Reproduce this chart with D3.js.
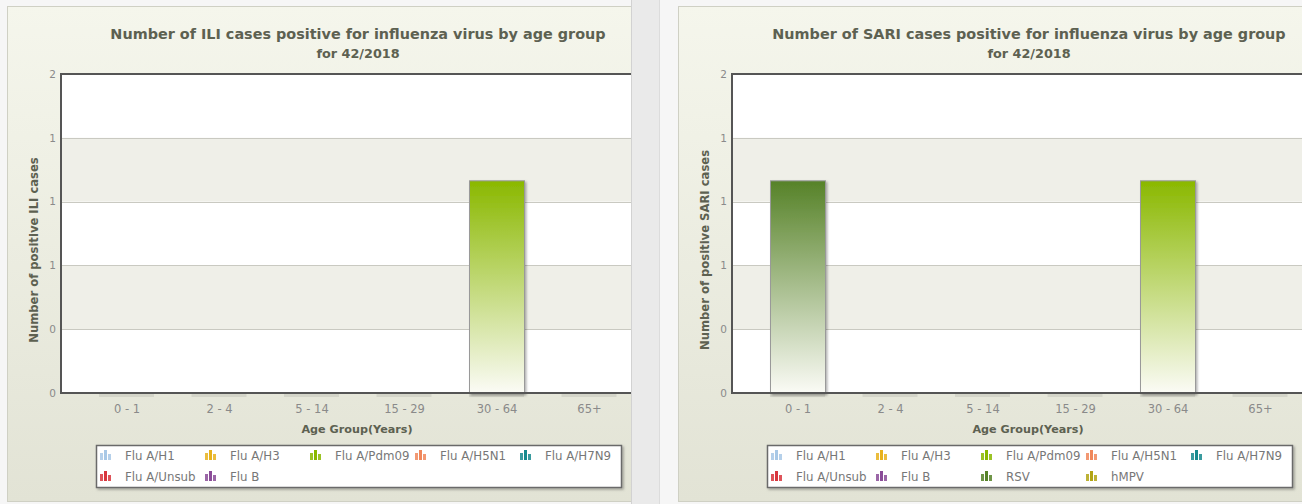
<!DOCTYPE html>
<html><head><meta charset="utf-8">
<script src="https://cdn.jsdelivr.net/npm/d3@7"></script>
<style>html,body{margin:0;padding:0;background:#f6f6f6;}svg{display:block;font-family:"DejaVu Sans",Verdana,sans-serif;}</style>
</head><body><svg id="c" width="1302" height="504"></svg>
<script>
const categories = ["0 - 1","2 - 4","5 - 14","15 - 29","30 - 64","65+"];
const yTicks = [0,0.3,0.6,0.9,1.2,1.5];
const iliSeriesNames = ["Flu A/H1","Flu A/H3","Flu A/Pdm09","Flu A/H5N1","Flu A/H7N9","Flu A/Unsub","Flu B"];
const sariSeriesNames = ["Flu A/H1","Flu A/H3","Flu A/Pdm09","Flu A/H5N1","Flu A/H7N9","Flu A/Unsub","Flu B","RSV","hMPV"];
const seriesColors = {"Flu A/H1":"#a8c8e6","Flu A/H3":"#e8b21c","Flu A/Pdm09":"#8ab800","Flu A/H5N1":"#f0875a","Flu A/H7N9":"#178a8e","Flu A/Unsub":"#d8363d","Flu B":"#8a4c98","RSV":"#568228","hMPV":"#b2a414"};
// values per age group (0-1, 2-4, 5-14, 15-29, 30-64, 65+)
const iliH1 = [0,0,0,0,0,0];
const iliH3 = [0,0,0,0,0,0];
const iliPdm09 = [0,0,0,0,1,0];
const iliH5N1 = [0,0,0,0,0,0];
const iliH7N9 = [0,0,0,0,0,0];
const iliUnsub = [0,0,0,0,0,0];
const iliFluB = [0,0,0,0,0,0];
const sariH1 = [0,0,0,0,0,0];
const sariH3 = [0,0,0,0,0,0];
const sariPdm09 = [0,0,0,0,1,0];
const sariH5N1 = [0,0,0,0,0,0];
const sariH7N9 = [0,0,0,0,0,0];
const sariUnsub = [0,0,0,0,0,0];
const sariFluB = [0,0,0,0,0,0];
const sariRSV = [1,0,0,0,0,0];
const sariHMPV = [0,0,0,0,0,0];
const iliValues = [iliH1,iliH3,iliPdm09,iliH5N1,iliH7N9,iliUnsub,iliFluB];
const sariValues = [sariH1,sariH3,sariPdm09,sariH5N1,sariH7N9,sariUnsub,sariFluB,sariRSV,sariHMPV];

const svg = d3.select("#c");
const defs = svg.append("defs");
const pg = defs.append("linearGradient").attr("id","panelBg").attr("x1",0).attr("y1",0).attr("x2",0).attr("y2",1);
pg.append("stop").attr("offset","0%").attr("stop-color","#f5f6ec");
pg.append("stop").attr("offset","100%").attr("stop-color","#e2e3d5");
Object.entries(seriesColors).forEach(([k,c],i)=>{
  const g = defs.append("linearGradient").attr("id","bg"+i).attr("x1",0).attr("y1",0).attr("x2",0).attr("y2",1);
  g.append("stop").attr("offset","0%").attr("stop-color",c);
  g.append("stop").attr("offset","100%").attr("stop-color","#fbfbf6");
});
const colorIdx = Object.keys(seriesColors);
const shadow = defs.append("filter").attr("id","sh").attr("x","-20%").attr("y","-20%").attr("width","150%").attr("height","150%");
shadow.append("feDropShadow").attr("dx",1.5).attr("dy",1.5).attr("stdDeviation",1.2).attr("flood-color","#000").attr("flood-opacity",0.3);

svg.append("rect").attr("x",631).attr("y",0).attr("width",29).attr("height",504).attr("fill","#eaeaea");
svg.append("line").attr("x1",631.5).attr("x2",631.5).attr("y1",0).attr("y2",504).attr("stroke","#d2d2d2");
svg.append("line").attr("x1",659.5).attr("x2",659.5).attr("y1",0).attr("y2",504).attr("stroke","#dcdcdc");

function panel(px, idx, names, values, kind){
  const W = 624, H = 496;
  defs.append("clipPath").attr("id","clip"+idx).append("rect").attr("width",W).attr("height",H);
  const g = svg.append("g").attr("transform",`translate(${px},6)`).attr("clip-path",`url(#clip${idx})`);
  g.append("rect").attr("x",0.5).attr("y",0.5).attr("width",W+20).attr("height",H-1).attr("fill","url(#panelBg)").attr("stroke","#cfd0c4");
  const left = 54, top = 68, bottom = 387, right = 700;
  const y = d3.scaleLinear().domain([0,1.5]).range([bottom, top]);
  const x = d3.scalePoint().domain(categories).range([119.5, 582]);
  const barW = 55;
  g.append("rect").attr("x",left).attr("y",top).attr("width",right-left).attr("height",bottom-top).attr("fill","#ffffff");
  for(let i=0;i<yTicks.length-1;i++){
    if(i%2===1) g.append("rect").attr("x",left).attr("y",y(yTicks[i+1])).attr("width",right-left).attr("height",y(yTicks[i])-y(yTicks[i+1])).attr("fill","#efefe8");
  }
  g.selectAll(".grid").data(yTicks.slice(1,-1)).join("line").attr("x1",left).attr("x2",right)
    .attr("y1",d=>Math.round(y(d))+0.5).attr("y2",d=>Math.round(y(d))+0.5).attr("stroke","#c9c9c1");
  const yAxis = d3.axisLeft(y).tickValues(yTicks).tickFormat(d3.format(".0f")).tickSize(0).tickPadding(5);
  const ya = g.append("g").attr("transform",`translate(${left},0)`).call(yAxis);
  ya.select(".domain").remove();
  ya.selectAll("text").attr("font-size",10.5).attr("fill","#8a8a8a").attr("font-family","DejaVu Sans, sans-serif");
  const rows = categories.map((c,ci)=>{const o={cat:c}; names.forEach((n,si)=>o[n]=values[si][ci]); return o;});
  const stack = d3.stack().keys(names)(rows);
  g.selectAll(".zs").data(categories).join("rect").attr("x",d=>x(d)-barW/2).attr("y",bottom+1).attr("width",barW).attr("height",3)
    .attr("fill","#d2d3c6").attr("opacity",0.9);
  stack.forEach(s=>{
    const ci = colorIdx.indexOf(s.key);
    g.selectAll(null).data(s.filter(d=>d[1]-d[0]>0)).join("rect")
      .attr("x",d=>x(d.data.cat)-barW/2+0.5).attr("y",d=>y(d[1])+0.5)
      .attr("width",barW).attr("height",d=>y(d[0])-y(d[1]))
      .attr("fill",`url(#bg${ci})`).attr("stroke","#999").attr("stroke-width",1).attr("filter","url(#sh)");
  });
  g.append("line").attr("x1",left).attr("x2",right).attr("y1",top).attr("y2",top).attr("stroke","#555").attr("stroke-width",2);
  g.append("line").attr("x1",left).attr("x2",left).attr("y1",top-1).attr("y2",bottom+1).attr("stroke","#555").attr("stroke-width",2);
  g.append("line").attr("x1",left).attr("x2",right).attr("y1",bottom).attr("y2",bottom).attr("stroke","#555").attr("stroke-width",2);
  const xAxis = d3.axisBottom(x).tickSize(0).tickPadding(12);
  const xa = g.append("g").attr("transform",`translate(0,${bottom})`).call(xAxis);
  xa.select(".domain").remove();
  xa.selectAll("text").attr("font-size",11.5).attr("fill","#8a8a8a").attr("font-family","DejaVu Sans, sans-serif");
  g.append("text").attr("x",351).attr("y",33).attr("text-anchor","middle").attr("font-size",14.4).attr("font-weight","bold").attr("fill","#5d6151")
    .text(`Number of ${kind} cases positive for influenza virus by age group`);
  g.append("text").attr("x",351).attr("y",52).attr("text-anchor","middle").attr("font-size",12.8).attr("font-weight","bold").attr("fill","#5d6151")
    .text("for 42/2018");
  g.append("text").attr("x",350).attr("y",427).attr("text-anchor","middle").attr("font-size",11.2).attr("font-weight","bold").attr("fill","#5d6151")
    .text("Age Group(Years)");
  g.append("text").attr("transform",`translate(31,${244}) rotate(-90)`).attr("text-anchor","middle").attr("font-size",11.6).attr("font-weight","bold").attr("fill","#5d6151")
    .text(`Number of positive ${kind} cases`);
  const lg = g.append("g").attr("transform","translate(89,439)");
  lg.append("rect").attr("x",0.5).attr("y",0.5).attr("width",525).attr("height",42).attr("fill","#fff").attr("stroke","#6a6a6a").attr("stroke-width",1.5).attr("filter","url(#sh)");
  names.forEach((n,i)=>{
    const col = i%5, row = Math.floor(i/5);
    const ix = 4 + col*105, iy = 5 + row*21;
    const hs = [7,10,6];
    hs.forEach((h,k)=>{
      lg.append("rect").attr("x",ix+k*4).attr("y",iy+10-h).attr("width",3).attr("height",h).attr("fill",seriesColors[n]).attr("opacity",k===1?1:0.85);
    });
    lg.append("text").attr("x",ix+25).attr("y",iy+9.5).attr("font-size",11.8).attr("fill","#777").text(n);
  });
}
panel(7, 0, iliSeriesNames, iliValues, "ILI");
panel(678, 1, sariSeriesNames, sariValues, "SARI");
</script></body></html>
